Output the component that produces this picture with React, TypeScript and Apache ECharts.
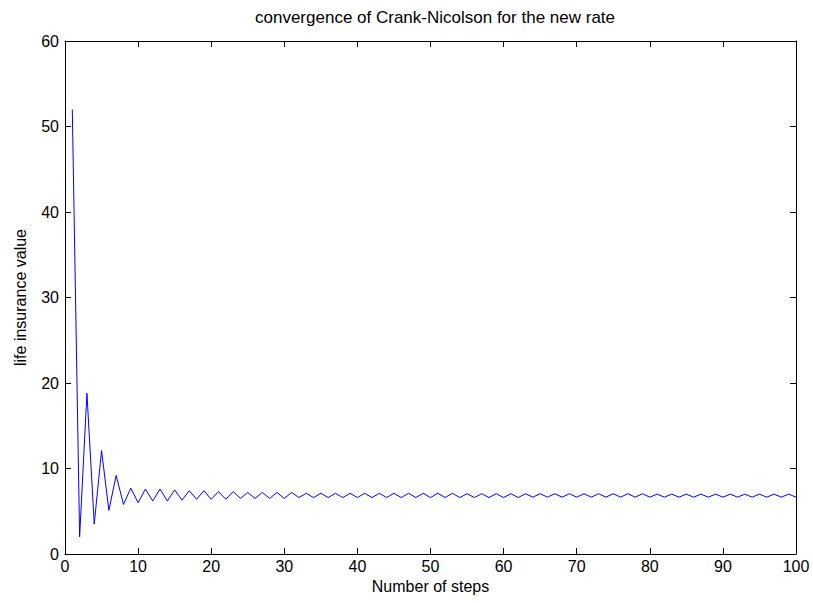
import React, { useEffect, useRef } from "react";
import * as echarts from "echarts";

const title = "convergence of Crank-Nicolson for the new rate";
const xTitle = "Number of steps";
const yTitle = "life insurance value";

const steps: number[] = Array.from({ length: 100 }, (_, i) => i + 1);

const values: number[] = [
  52.0, 2.0, 18.8, 3.5, 12.1, 5.1, 9.2, 5.8, 7.7, 6.0,
  7.6, 6.2, 7.6, 6.2, 7.5, 6.3, 7.4, 6.4, 7.4, 6.4,
  7.3, 6.4, 7.3, 6.5, 7.2, 6.5, 7.2, 6.5, 7.2, 6.5,
  7.2, 6.6, 7.1, 6.6, 7.1, 6.6, 7.1, 6.6, 7.1, 6.6,
  7.1, 6.6, 7.1, 6.6, 7.1, 6.6, 7.1, 6.6, 7.1, 6.6,
  7.1, 6.6, 7.1, 6.6, 7.05, 6.6, 7.05, 6.6, 7.05, 6.6,
  7.05, 6.6, 7.05, 6.65, 7.05, 6.65, 7.05, 6.65, 7.05, 6.65,
  7.05, 6.65, 7.05, 6.65, 7.05, 6.65, 7.05, 6.65, 7.05, 6.65,
  7.0, 6.65, 7.0, 6.65, 7.0, 6.65, 7.0, 6.65, 7.0, 6.65,
  7.0, 6.65, 7.0, 6.65, 7.0, 6.65, 7.0, 6.65, 7.0, 6.65,
];

export default function App() {
  const ref = useRef<HTMLDivElement>(null);
  useEffect(() => {
    if (!ref.current) return;
    const chart = echarts.init(ref.current, null, { renderer: "svg" });
    const font = "'Liberation Sans', Arial, sans-serif";
    const axisLine = { show: true, onZero: false, lineStyle: { color: "#000", width: 1 } };
    const tick = { show: true, inside: true, length: 6, lineStyle: { color: "#000" } };
    chart.setOption({
      animation: false,
      backgroundColor: "#fff",
      title: {
        text: title,
        left: 430,
        textAlign: "center",
        top: 4,
        textStyle: { fontFamily: font, fontSize: 17, fontWeight: "normal", color: "#000" },
      },
      grid: { left: 65, right: 17, top: 41, bottom: 49, containLabel: false },
      xAxis: [
        {
          type: "value",
          min: 0,
          max: 100,
          interval: 10,
          position: "bottom",
          name: xTitle,
          nameLocation: "middle",
          nameGap: 18,
          nameTextStyle: { fontFamily: font, fontSize: 16, color: "#000" },
          axisLine,
          axisTick: tick,
          axisLabel: { fontFamily: font, fontSize: 16, color: "#000", margin: 4 },
          splitLine: { show: false },
        },
        {
          type: "value",
          min: 0,
          max: 100,
          interval: 10,
          position: "top",
          axisLine,
          axisTick: tick,
          axisLabel: { show: false },
          splitLine: { show: false },
        },
      ],
      yAxis: [
        {
          type: "value",
          min: 0,
          max: 60,
          interval: 10,
          position: "left",
          name: yTitle,
          nameLocation: "middle",
          nameGap: 37,
          nameRotate: 90,
          nameTextStyle: { fontFamily: font, fontSize: 16, color: "#000" },
          axisLine,
          axisTick: tick,
          axisLabel: { fontFamily: font, fontSize: 16, color: "#000", margin: 6 },
          splitLine: { show: false },
        },
        {
          type: "value",
          min: 0,
          max: 60,
          interval: 10,
          position: "right",
          axisLine,
          axisTick: tick,
          axisLabel: { show: false },
          splitLine: { show: false },
        },
      ],
      series: [
        {
          type: "line",
          xAxisIndex: 0,
          yAxisIndex: 0,
          data: steps.map((s, i) => [s, values[i]]),
          showSymbol: false,
          symbol: "none",
          lineStyle: { color: "#0000ff", width: 1 },
          itemStyle: { color: "#0000ff" },
        },
      ],
    });
    return () => chart.dispose();
  }, []);
  return <div ref={ref} style={{ width: 813, height: 603, position: "absolute", left: 0, top: 0 }} />;
}
